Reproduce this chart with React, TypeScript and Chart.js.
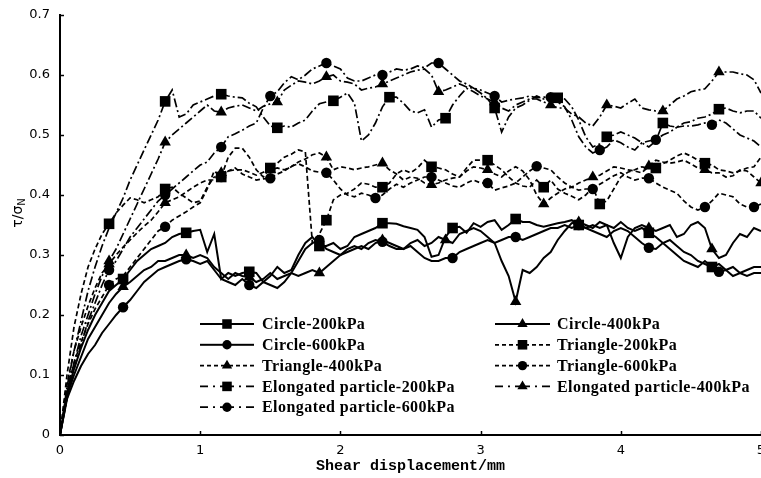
import React, { useEffect, useRef } from "react";
import { Chart, registerables } from "chart.js";

Chart.register(...registerables);

// Shear displacement grid (mm)
const X = [
  0, 0.05, 0.1, 0.15, 0.2, 0.25, 0.3, 0.35, 0.4, 0.45,
  0.5, 0.55, 0.6, 0.65, 0.7, 0.75, 0.8, 0.85, 0.9, 0.95,
  1, 1.05, 1.1, 1.15, 1.2, 1.25, 1.3, 1.35, 1.4, 1.45,
  1.5, 1.55, 1.6, 1.65, 1.7, 1.75, 1.8, 1.85, 1.9, 1.95,
  2, 2.05, 2.1, 2.15, 2.2, 2.25, 2.3, 2.35, 2.4, 2.45,
  2.5, 2.55, 2.6, 2.65, 2.7, 2.75, 2.8, 2.85, 2.9, 2.95,
  3, 3.05, 3.1, 3.15, 3.2, 3.25, 3.3, 3.35, 3.4, 3.45,
  3.5, 3.55, 3.6, 3.65, 3.7, 3.75, 3.8, 3.85, 3.9, 3.95,
  4, 4.05, 4.1, 4.15, 4.2, 4.25, 4.3, 4.35, 4.4, 4.45,
  4.5, 4.55, 4.6, 4.65, 4.7, 4.75, 4.8, 4.85, 4.9, 4.95,
  5,
];

const Y_TICKS = [0, 0.1, 0.2, 0.3, 0.4, 0.5, 0.6, 0.7];
const X_TICKS = [0, 1, 2, 3, 4, 5];

const CIRCLE_200 = [
  0, 0.07, 0.11, 0.145, 0.175, 0.2, 0.22, 0.24, 0.25, 0.26,
  0.275, 0.29, 0.3, 0.31, 0.315, 0.32, 0.33, 0.335, 0.337, 0.34,
  0.342, 0.305, 0.335, 0.26, 0.27, 0.265, 0.27, 0.272, 0.27, 0.255,
  0.265, 0.28, 0.27, 0.275, 0.3, 0.32, 0.33, 0.315, 0.315, 0.32,
  0.31, 0.315, 0.33, 0.335, 0.34, 0.345, 0.353, 0.353, 0.352, 0.348,
  0.345, 0.342, 0.33, 0.297, 0.3, 0.33, 0.345, 0.347, 0.337, 0.353,
  0.347, 0.355, 0.358, 0.342, 0.35, 0.36, 0.355, 0.355, 0.35, 0.347,
  0.35, 0.353, 0.355, 0.358, 0.35, 0.345, 0.35, 0.345, 0.35, 0.345,
  0.355, 0.345, 0.34, 0.345, 0.337, 0.33, 0.32, 0.31, 0.3, 0.29,
  0.285, 0.28, 0.29, 0.28, 0.285, 0.275, 0.28, 0.27, 0.275, 0.28,
  0.28,
];
const CIRCLE_400 = [
  0, 0.065, 0.1, 0.13, 0.16, 0.18, 0.2, 0.22, 0.235, 0.247,
  0.255, 0.265, 0.275, 0.28, 0.29, 0.29, 0.295, 0.3, 0.3, 0.295,
  0.3, 0.295, 0.28, 0.27, 0.26, 0.27, 0.265, 0.263, 0.255, 0.26,
  0.27, 0.26, 0.265, 0.27, 0.265, 0.27, 0.275, 0.27, 0.28, 0.29,
  0.3, 0.305, 0.31, 0.315, 0.31, 0.32, 0.325, 0.32, 0.315, 0.31,
  0.32, 0.325, 0.315, 0.32, 0.33, 0.325, 0.32, 0.335, 0.34, 0.345,
  0.34, 0.33, 0.32, 0.29, 0.265, 0.222, 0.275, 0.27, 0.28, 0.295,
  0.305, 0.325, 0.34, 0.353, 0.355, 0.35, 0.345, 0.355, 0.35, 0.32,
  0.295, 0.33, 0.345, 0.35, 0.345, 0.34, 0.345, 0.35, 0.33, 0.335,
  0.35, 0.355, 0.345, 0.31, 0.295, 0.3, 0.32, 0.335, 0.33, 0.345,
  0.34,
];
const CIRCLE_600 = [
  0, 0.06, 0.09, 0.115, 0.135, 0.15, 0.17, 0.185, 0.2, 0.213,
  0.225, 0.24, 0.255, 0.265, 0.275, 0.28, 0.285, 0.29, 0.293, 0.29,
  0.285, 0.29, 0.275, 0.26, 0.255, 0.25, 0.26, 0.25, 0.245, 0.255,
  0.25, 0.245, 0.255, 0.27, 0.29, 0.31, 0.32, 0.325, 0.31, 0.305,
  0.3, 0.31, 0.315, 0.31, 0.32, 0.325, 0.322, 0.315, 0.31, 0.31,
  0.315, 0.305, 0.295, 0.29, 0.29, 0.295, 0.295, 0.305, 0.31, 0.315,
  0.32, 0.325, 0.32, 0.325, 0.33, 0.33, 0.325, 0.33, 0.335, 0.34,
  0.345, 0.345, 0.35, 0.345, 0.35, 0.345, 0.34, 0.335, 0.33, 0.34,
  0.345, 0.34, 0.33, 0.32, 0.312, 0.31, 0.32, 0.325, 0.315, 0.305,
  0.3, 0.29, 0.285, 0.28, 0.272, 0.275, 0.265, 0.27, 0.265, 0.27,
  0.27,
];
const TRIANGLE_200 = [
  0, 0.1, 0.18, 0.235, 0.28, 0.31, 0.335, 0.352, 0.37, 0.383,
  0.395, 0.392, 0.387, 0.392, 0.397, 0.41, 0.413, 0.403, 0.395, 0.387,
  0.39, 0.413, 0.43, 0.43, 0.463, 0.478, 0.478, 0.463, 0.442, 0.43,
  0.445, 0.453, 0.463, 0.468, 0.475, 0.472, 0.32, 0.335, 0.358, 0.392,
  0.4, 0.403, 0.41, 0.42, 0.418, 0.413, 0.413, 0.42, 0.435, 0.442,
  0.437, 0.445, 0.458, 0.447, 0.445, 0.442, 0.435, 0.43, 0.445, 0.458,
  0.458, 0.458, 0.45, 0.442, 0.43, 0.42, 0.415, 0.413, 0.425, 0.413,
  0.425, 0.41, 0.403, 0.398, 0.392, 0.4, 0.413, 0.385, 0.39, 0.41,
  0.43, 0.438, 0.442, 0.447, 0.445, 0.445, 0.452, 0.458, 0.465, 0.47,
  0.465, 0.458, 0.453, 0.45, 0.442, 0.44, 0.437, 0.44, 0.445, 0.447,
  0.463,
];
const TRIANGLE_400 = [
  0, 0.085, 0.14, 0.18, 0.215, 0.245, 0.27, 0.285, 0.3, 0.313,
  0.325, 0.337, 0.348, 0.358, 0.372, 0.387, 0.392, 0.397, 0.405, 0.413,
  0.42, 0.425, 0.425, 0.437, 0.44, 0.442, 0.442, 0.438, 0.433, 0.438,
  0.442, 0.445, 0.442, 0.447, 0.455, 0.46, 0.467, 0.47, 0.463, 0.442,
  0.447, 0.445, 0.442, 0.445, 0.447, 0.45, 0.453, 0.442, 0.435, 0.425,
  0.43, 0.428, 0.42, 0.417, 0.42, 0.425, 0.428, 0.43, 0.44, 0.447,
  0.445, 0.442, 0.435, 0.43, 0.44, 0.447, 0.44, 0.425, 0.4, 0.385,
  0.395, 0.403, 0.41, 0.413, 0.42, 0.425, 0.43, 0.433, 0.44, 0.447,
  0.445, 0.442, 0.44, 0.437, 0.448, 0.458, 0.455, 0.453, 0.455, 0.458,
  0.452, 0.445, 0.442, 0.437, 0.437, 0.43, 0.432, 0.442, 0.44, 0.43,
  0.42,
];
const TRIANGLE_600 = [
  0, 0.075, 0.12, 0.155, 0.185, 0.21, 0.23, 0.25, 0.26, 0.265,
  0.28, 0.295, 0.31, 0.325, 0.34, 0.347, 0.358, 0.365, 0.372, 0.38,
  0.387, 0.41, 0.44, 0.43, 0.44, 0.445, 0.435, 0.43, 0.425, 0.427,
  0.428, 0.435, 0.44, 0.448, 0.452, 0.447, 0.44, 0.438, 0.437, 0.425,
  0.41, 0.4, 0.397, 0.403, 0.4, 0.395, 0.4, 0.41, 0.418, 0.413,
  0.42, 0.425, 0.43, 0.43, 0.425, 0.42, 0.415, 0.413, 0.42, 0.425,
  0.42, 0.42, 0.408, 0.412, 0.415, 0.42, 0.43, 0.44, 0.448, 0.445,
  0.442, 0.43, 0.42, 0.413, 0.408, 0.41, 0.41, 0.418, 0.425, 0.432,
  0.437, 0.43, 0.425, 0.428, 0.428, 0.42, 0.413, 0.408, 0.403, 0.39,
  0.38, 0.375, 0.38, 0.39, 0.403, 0.4, 0.397, 0.385, 0.38, 0.38,
  0.385,
];
const ELONGATED_200 = [
  0, 0.08, 0.14, 0.19, 0.24, 0.28, 0.315, 0.345, 0.37, 0.395,
  0.425, 0.45, 0.475, 0.5, 0.525, 0.556, 0.575, 0.53, 0.535, 0.55,
  0.555, 0.56, 0.565, 0.568, 0.565, 0.563, 0.562, 0.553, 0.547, 0.53,
  0.515, 0.512, 0.515, 0.513, 0.52, 0.525, 0.54, 0.552, 0.555, 0.557,
  0.563, 0.57, 0.553, 0.49, 0.5, 0.52, 0.547, 0.563, 0.563, 0.553,
  0.54, 0.537, 0.542, 0.513, 0.525, 0.528, 0.55, 0.565, 0.578, 0.572,
  0.565, 0.56, 0.545, 0.505, 0.53, 0.545, 0.55, 0.558, 0.565, 0.56,
  0.558, 0.562, 0.56, 0.547, 0.525, 0.497, 0.48, 0.485, 0.497, 0.5,
  0.505, 0.5, 0.495, 0.487, 0.48, 0.49, 0.52, 0.515, 0.513, 0.52,
  0.522, 0.528, 0.53, 0.535, 0.543, 0.545, 0.54, 0.537, 0.54, 0.54,
  0.528,
];
const ELONGATED_400 = [
  0, 0.07, 0.12, 0.165, 0.2, 0.235, 0.265, 0.29, 0.31, 0.335,
  0.36, 0.385, 0.41, 0.435, 0.46, 0.488, 0.5, 0.51, 0.52, 0.53,
  0.54, 0.55, 0.54, 0.538, 0.545, 0.548, 0.55, 0.545, 0.54, 0.548,
  0.552, 0.555, 0.575, 0.583, 0.59, 0.588, 0.585, 0.59, 0.597, 0.6,
  0.59, 0.588, 0.585, 0.575, 0.578, 0.58, 0.585, 0.59, 0.595, 0.6,
  0.605, 0.608, 0.61, 0.6, 0.572, 0.575, 0.58, 0.585, 0.58, 0.578,
  0.57, 0.56, 0.555, 0.545, 0.54, 0.55, 0.555, 0.56, 0.56, 0.555,
  0.55, 0.545, 0.545, 0.535, 0.53, 0.52, 0.515, 0.53, 0.55, 0.548,
  0.545, 0.553, 0.56, 0.545, 0.542, 0.54, 0.54, 0.55, 0.56, 0.565,
  0.572, 0.575, 0.577, 0.59, 0.605, 0.605, 0.605, 0.602, 0.6, 0.592,
  0.57,
];
const ELONGATED_600 = [
  0, 0.06, 0.11, 0.15, 0.19, 0.22, 0.25, 0.275, 0.29, 0.31,
  0.33, 0.345, 0.36, 0.375, 0.39, 0.4, 0.41, 0.42, 0.43, 0.44,
  0.45, 0.455, 0.47, 0.48, 0.497, 0.502, 0.508, 0.515, 0.52, 0.545,
  0.565, 0.572, 0.587, 0.597, 0.592, 0.6, 0.61, 0.615, 0.62, 0.615,
  0.61, 0.595, 0.59, 0.59, 0.595, 0.6, 0.6, 0.605, 0.61, 0.608,
  0.61, 0.615, 0.612, 0.62, 0.62, 0.61, 0.6, 0.59, 0.585, 0.578,
  0.575, 0.57, 0.565, 0.555, 0.558, 0.56, 0.562, 0.565, 0.562, 0.563,
  0.563, 0.555, 0.547, 0.525, 0.497, 0.48, 0.47, 0.475, 0.48, 0.492,
  0.487, 0.48, 0.475, 0.487, 0.49, 0.492, 0.5, 0.505, 0.513, 0.515,
  0.515, 0.517, 0.52, 0.517, 0.525, 0.52, 0.51, 0.5, 0.495, 0.49,
  0.48,
];

// Displacements (mm) at which each curve carries a marker
const MARKS_CIRCLE_200 = [0.45, 0.9, 1.35, 1.85, 2.3, 2.8, 3.25, 3.7, 4.2, 4.65];
const MARKS_CIRCLE_400 = [0.45, 0.9, 1.35, 1.85, 2.3, 2.75, 3.25, 3.7, 4.2, 4.65];
const MARKS_CIRCLE_600 = [0.45, 0.9, 1.35, 1.85, 2.3, 2.8, 3.25, 3.7, 4.2, 4.7];
const MARKS_TRIANGLE_200 = [0.35, 0.75, 1.15, 1.5, 1.9, 2.3, 2.65, 3.05, 3.45, 3.85, 4.25, 4.6];
const MARKS_TRIANGLE_400 = [0.35, 0.75, 1.15, 1.5, 1.9, 2.3, 2.65, 3.05, 3.45, 3.8, 4.2, 4.6, 5];
const MARKS_TRIANGLE_600 = [0.35, 0.75, 1.15, 1.5, 1.9, 2.25, 2.65, 3.05, 3.4, 3.8, 4.2, 4.6, 4.95];
const MARKS_ELONGATED_200 = [0.75, 1.15, 1.55, 1.95, 2.35, 2.75, 3.1, 3.55, 3.9, 4.3, 4.7];
const MARKS_ELONGATED_400 = [0.35, 0.75, 1.15, 1.55, 1.9, 2.3, 2.7, 3.1, 3.5, 3.9, 4.3, 4.7];
const MARKS_ELONGATED_600 = [0.35, 0.75, 1.15, 1.5, 1.9, 2.3, 2.7, 3.1, 3.5, 3.85, 4.25, 4.65];

const SERIES = [
  { label: "Circle-200kPa", data: CIRCLE_200, marks: MARKS_CIRCLE_200, kind: "solid", point: "rect" },
  { label: "Circle-400kPa", data: CIRCLE_400, marks: MARKS_CIRCLE_400, kind: "solid", point: "triangle" },
  { label: "Circle-600kPa", data: CIRCLE_600, marks: MARKS_CIRCLE_600, kind: "solid", point: "circle" },
  { label: "Triangle-200kPa", data: TRIANGLE_200, marks: MARKS_TRIANGLE_200, kind: "dashed", point: "rect" },
  { label: "Triangle-400kPa", data: TRIANGLE_400, marks: MARKS_TRIANGLE_400, kind: "dashed", point: "triangle" },
  { label: "Triangle-600kPa", data: TRIANGLE_600, marks: MARKS_TRIANGLE_600, kind: "dashed", point: "circle" },
  { label: "Elongated particle-200kPa", data: ELONGATED_200, marks: MARKS_ELONGATED_200, kind: "dashdot", point: "rect" },
  { label: "Elongated particle-400kPa", data: ELONGATED_400, marks: MARKS_ELONGATED_400, kind: "dashdot", point: "triangle" },
  { label: "Elongated particle-600kPa", data: ELONGATED_600, marks: MARKS_ELONGATED_600, kind: "dashdot", point: "circle" },
];

const DASHES: Record<string, number[]> = { solid: [], dashed: [5, 3], dashdot: [9, 3, 2, 3] };
const LEGEND_DASHES: Record<string, number[]> = { solid: [], dashed: [4, 3], dashdot: [8, 5, 2, 5] };
const WIDTHS: Record<string, number> = { solid: 2, dashed: 1.7, dashdot: 1.7 };
const RADII: Record<string, number> = { rect: 7.5, circle: 5.2, triangle: 6.6 };

function drawMarker(ctx: CanvasRenderingContext2D, style: string, x: number, y: number, r: number) {
  ctx.beginPath();
  if (style === "rect") {
    const h = r * Math.SQRT1_2;
    ctx.rect(x - h, y - h, 2 * h, 2 * h);
  } else if (style === "circle") {
    ctx.arc(x, y, r, 0, Math.PI * 2);
  } else {
    let a = 0;
    ctx.moveTo(x + Math.sin(a) * r, y - Math.cos(a) * r);
    a += (2 * Math.PI) / 3;
    ctx.lineTo(x + Math.sin(a) * r, y - Math.cos(a) * r);
    a += (2 * Math.PI) / 3;
    ctx.lineTo(x + Math.sin(a) * r, y - Math.cos(a) * r);
    ctx.closePath();
  }
  ctx.fill();
}

const decorPlugin = {
  id: "decor",
  afterDraw(chart: any) {
    const ctx: CanvasRenderingContext2D = chart.ctx;
    const xs = chart.scales.x;
    const ys = chart.scales.y;
    const area = chart.chartArea;
    ctx.save();
    // inward tick marks
    ctx.strokeStyle = "#000";
    ctx.lineWidth = 1.5;
    ctx.setLineDash([]);
    Y_TICKS.forEach((v) => {
      const py = Math.round(ys.getPixelForValue(v)) + 0.5;
      ctx.beginPath();
      ctx.moveTo(area.left, py);
      ctx.lineTo(area.left + 4, py);
      ctx.stroke();
    });
    X_TICKS.forEach((v) => {
      const px = Math.round(xs.getPixelForValue(v)) + 0.5;
      ctx.beginPath();
      ctx.moveTo(px, area.bottom);
      ctx.lineTo(px, area.bottom - 4);
      ctx.stroke();
    });

    // y-axis title with subscript
    ctx.fillStyle = "#000";
    ctx.translate(17, 213);
    ctx.rotate(-Math.PI / 2);
    ctx.font = '14px "DejaVu Sans"';
    const main = "\u03c4/\u03c3";
    const w1 = ctx.measureText(main).width;
    ctx.font = '10px "DejaVu Sans"';
    const w2 = ctx.measureText("N").width;
    const start = -(w1 + w2) / 2;
    ctx.textBaseline = "alphabetic";
    ctx.font = '14px "DejaVu Sans"';
    ctx.fillText(main, start, 5);
    ctx.font = '10px "DejaVu Sans"';
    ctx.fillText("N", start + w1, 8);
    ctx.restore();

    // legend
    ctx.save();
    ctx.fillStyle = "#000";
    ctx.strokeStyle = "#000";
    ctx.font = 'bold 16px "Liberation Serif"';
    (ctx as any).letterSpacing = "0.45px";
    ctx.textBaseline = "middle";
    chart.data.datasets.forEach((ds: any, i: number) => {
      const s = SERIES[i];
      const col = i % 2;
      const row = Math.floor(i / 2);
      const y = 324 + row * 20.8;
      const x0 = col ? 495 : 200;
      const x1 = col ? 550 : 254;
      const cx = (x0 + x1) / 2;
      ctx.lineWidth = WIDTHS[s.kind];
      ctx.setLineDash(LEGEND_DASHES[s.kind]);
      ctx.beginPath();
      ctx.moveTo(x0, y);
      ctx.lineTo(cx, y);
      ctx.stroke();
      ctx.beginPath();
      ctx.moveTo(x1, y);
      ctx.lineTo(cx, y);
      ctx.stroke();
      ctx.setLineDash([]);
      drawMarker(ctx, s.point, cx, y, RADII[s.point] * 0.9);
      ctx.fillText(ds.label, col ? 557 : 262, y + 1);
    });
    ctx.restore();
  },
};

export default function App() {
  const ref = useRef<HTMLCanvasElement | null>(null);

  useEffect(() => {
    const canvas = ref.current;
    if (!canvas) return;
    const chart = new Chart(canvas, {
      type: "line",
      data: {
        datasets: SERIES.map((s) => ({
          label: s.label,
          data: s.data.map((y, i) => ({ x: X[i], y })),
          borderColor: "#000",
          backgroundColor: "#000",
          borderWidth: WIDTHS[s.kind],
          borderDash: DASHES[s.kind],
          pointStyle: s.point as any,
          pointRadius: (c: any) => (s.marks.includes(X[c.dataIndex]) ? RADII[s.point] : 0),
          pointHoverRadius: 0,
          pointBackgroundColor: "#000",
          pointBorderColor: "#000",
          pointBorderWidth: 0,
          tension: 0,
          fill: false,
        })),
      },
      options: {
        animation: false,
        responsive: false,
        events: [],
        layout: { autoPadding: false, padding: { top: 15, right: 0, left: 0, bottom: 0 } },
        plugins: { legend: { display: false }, tooltip: { enabled: false } },
        scales: {
          x: {
            type: "linear",
            min: 0,
            max: 5,
            afterBuildTicks: (s: any) => {
              s.ticks = X_TICKS.map((v) => ({ value: v }));
            },
            afterFit: (s: any) => {
              s.height = 43;
              s.paddingLeft = 0;
              s.paddingRight = 0;
            },
            grid: { display: false, drawTicks: false },
            border: { display: true, color: "#000", width: 2 },
            ticks: {
              color: "#000",
              font: { family: "DejaVu Sans", size: 13 },
              padding: 8,
              maxRotation: 0,
              autoSkip: false,
            },
            title: {
              display: true,
              text: "Shear displacement/mm",
              color: "#000",
              font: { family: "Liberation Mono", size: 15, weight: "bold" },
              padding: { top: 0, bottom: 3 },
            },
          },
          y: {
            type: "linear",
            min: 0,
            max: 0.7,
            afterBuildTicks: (s: any) => {
              s.ticks = Y_TICKS.map((v) => ({ value: v }));
            },
            afterFit: (s: any) => {
              s.width = 60;
              s.paddingTop = 0;
              s.paddingBottom = 0;
            },
            grid: { display: false, drawTicks: false },
            border: { display: true, color: "#000", width: 2 },
            ticks: {
              color: "#000",
              font: { family: "DejaVu Sans", size: 13 },
              padding: 10,
              callback: (v: any) => String(Number(Number(v).toFixed(1))),
            },
          },
        },
      },
      plugins: [decorPlugin],
    });
    return () => chart.destroy();
  }, []);

  return (
    <div style={{ position: "fixed", left: 0, top: 0, width: 761, height: 478, background: "#fff" }}>
      <canvas ref={ref} width={761} height={478} style={{ display: "block", width: 761, height: 478 }} />
    </div>
  );
}
